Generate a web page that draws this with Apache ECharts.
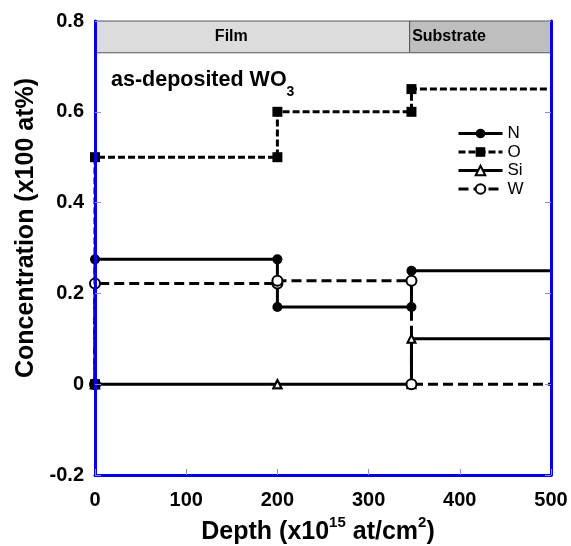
<!DOCTYPE html>
<html>
<head>
<meta charset="utf-8">
<script src="https://cdn.jsdelivr.net/npm/echarts@6/dist/echarts.min.js"></script>
<style>
html,body{margin:0;padding:0;background:#fff;}
#chart{width:571px;height:546px;}
</style>
</head>
<body>
<div id="chart"></div>
<script>
// ---- data ----
var depth   = [0, 0, 200, 200, 347, 347, 560];
var N  = [0, 0.275, 0.275, 0.17, 0.17, 0.25, 0.25];
var O  = [0, 0.5, 0.5, 0.6, 0.6, 0.65, 0.65];
var Si = [0, 0, 0, 0, 0, 0.1, 0.1];
var W  = [0, 0.222, 0.222, 0.228, 0.228, 0, 0];
var seriesNames = ['N', 'O', 'Si', 'W'];
var xTicks = [0, 100, 200, 300, 400, 500];
var yTicks = [-0.2, 0, 0.2, 0.4, 0.6, 0.8];
var regions = [{name: 'Film', from: 0, to: 345}, {name: 'Substrate', from: 345, to: 500}];
var headerBand = [0.73, 0.8];

function pts(ys) { return depth.map(function (d, i) { return [d, ys[i]]; }); }

var FONT = '"Liberation Sans", Arial, sans-serif';
var AXIS_BLUE = '#0000e6';
var TICK_BLUE = '#8a8aff';

var chart = echarts.init(document.getElementById('chart'));
chart.setOption({
  animation: false,
  backgroundColor: '#fff',
  grid: {left: 95, right: 20, top: 21, bottom: 71, containLabel: false, outerBoundsMode: 'none'},
  title: {
    text: '{a|as-deposited WO}{s|3}',
    left: 106, top: 64,
    textStyle: {
      rich: {
        a: {fontSize: 21.5, fontWeight: 'bold', fontFamily: FONT, color: '#000', lineHeight: 30, verticalAlign: 'top'},
        s: {fontSize: 14, fontWeight: 'bold', fontFamily: FONT, color: '#000', lineHeight: 30, verticalAlign: 'bottom'}
      }
    }
  },
  legend: {
    orient: 'vertical', left: 452, top: 120,
    itemWidth: 44, itemHeight: 12, itemGap: 1.5,
    lineStyle: {width: 3},
    textStyle: {fontSize: 17, fontFamily: FONT, color: '#000', lineHeight: 16},
    data: seriesNames
  },
  xAxis: {
    type: 'value', min: xTicks[0], max: xTicks[xTicks.length - 1], interval: 100,
    z: 10,
    axisLine: {show: true, onZero: false, lineStyle: {color: AXIS_BLUE, width: 3}},
    axisTick: {show: true, inside: true, length: 6, lineStyle: {color: TICK_BLUE, width: 1}},
    splitLine: {show: false},
    axisLabel: {fontSize: 20, fontWeight: 'bold', fontFamily: FONT, color: '#000', margin: 15},
    name: '{a|Depth (x10}{p|15}{a| at/cm}{p|2}{a|)}',
    nameLocation: 'middle', nameGap: 37,
    nameTextStyle: {
      padding: [0, 10, 0, 0],
      rich: {
        a: {fontSize: 25, fontWeight: 'bold', fontFamily: FONT, color: '#000', lineHeight: 30, verticalAlign: 'bottom'},
        p: {fontSize: 15, fontWeight: 'bold', fontFamily: FONT, color: '#000', lineHeight: 30, verticalAlign: 'top'}
      }
    }
  },
  yAxis: [{
    type: 'value', min: yTicks[0], max: yTicks[yTicks.length - 1], interval: 0.2,
    position: 'left', z: 10,
    axisLine: {show: true, onZero: false, lineStyle: {color: AXIS_BLUE, width: 3}},
    axisTick: {show: true, inside: true, length: 6, lineStyle: {color: TICK_BLUE, width: 1}},
    splitLine: {show: false},
    axisLabel: {fontSize: 20, fontWeight: 'bold', fontFamily: FONT, color: '#000', margin: 11},
    name: 'Concentration (x100 at%)',
    nameLocation: 'middle', nameGap: 53,
    nameTextStyle: {fontSize: 25, fontWeight: 'bold', fontFamily: FONT, color: '#000', padding: [0, 0, 0, 40]}
  }, {
    type: 'value', min: yTicks[0], max: yTicks[yTicks.length - 1], interval: 0.2,
    position: 'right', z: 10,
    axisLine: {show: true, onZero: false, lineStyle: {color: AXIS_BLUE, width: 3}},
    axisTick: {show: true, inside: true, length: 6, lineStyle: {color: TICK_BLUE, width: 1}},
    splitLine: {show: false},
    axisLabel: {show: false}
  }],
  series: [{
    name: 'N', type: 'line', data: pts(N), clip: true,
    symbol: 'circle', symbolSize: 10,
    itemStyle: {color: '#000'},
    lineStyle: {color: '#000', width: 3, type: 'solid'},
    markArea: {
      silent: true,
      itemStyle: {borderColor: '#555', borderWidth: 1},
      data: [
        [{xAxis: regions[0].from, yAxis: headerBand[0], itemStyle: {color: '#dcdcdc'},
          label: {show: true, position: 'inside', offset: [-21, 0], formatter: regions[0].name,
                  fontSize: 16, fontWeight: 'bold', fontFamily: FONT, color: '#000'}},
         {xAxis: regions[0].to, yAxis: headerBand[1]}],
        [{xAxis: regions[1].from, yAxis: headerBand[0], itemStyle: {color: '#bebebe'},
          label: {show: true, position: 'insideLeft', distance: 3, formatter: regions[1].name,
                  fontSize: 16, fontWeight: 'bold', fontFamily: FONT, color: '#000'}},
         {xAxis: regions[1].to, yAxis: headerBand[1]}]
      ]
    }
  }, {
    name: 'O', type: 'line', data: pts(O), clip: true, z: 4,
    symbol: 'rect', symbolSize: 10,
    itemStyle: {color: '#000'},
    lineStyle: {color: '#000', width: 3, type: [7, 3]}
  }, {
    name: 'Si', type: 'line', data: pts(Si), clip: true,
    symbol: 'emptyTriangle', symbolSize: 8,
    itemStyle: {color: '#000', borderWidth: 1, borderColor: '#000'},
    lineStyle: {color: '#000', width: 3, type: 'solid'}
  }, {
    name: 'W', type: 'line', data: pts(W), clip: true, z: 3,
    symbol: 'emptyCircle', symbolSize: 10,
    itemStyle: {color: '#000', borderWidth: 1, borderColor: '#000'},
    lineStyle: {color: '#000', width: 3, type: [10, 5]}
  }]
});
</script>
</body>
</html>
